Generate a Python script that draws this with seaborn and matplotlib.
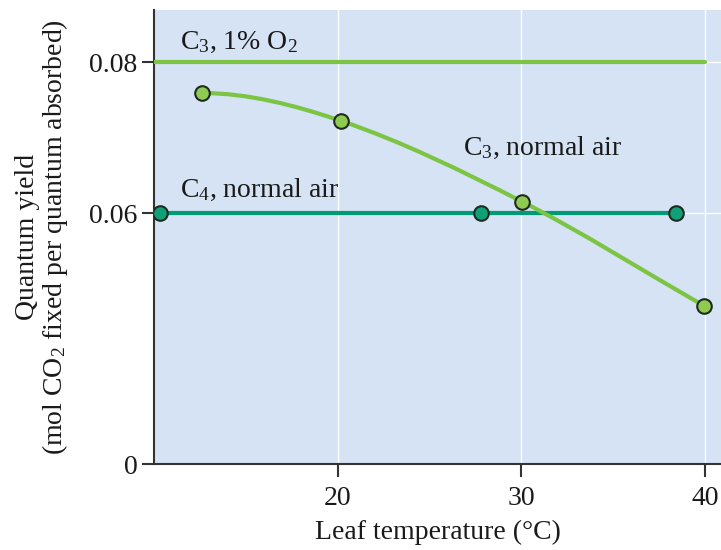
import numpy as np
import pandas as pd
import matplotlib
matplotlib.use("Agg")
import matplotlib.pyplot as plt
from matplotlib.path import Path
from matplotlib.patches import PathPatch
import seaborn as sns

# ---- data ----
c3_low_o2_x = [10.0, 40.0]
c3_low_o2_y = [0.08, 0.08]
c4_x = [10.3, 27.8, 38.4]
c4_y = [0.06, 0.06, 0.06]
c3_air_x = [12.6, 20.2, 30.05, 39.95]
c3_air_y = [0.0759, 0.0722, 0.0615, 0.0378]
x_ticks = [20, 30, 40]
y_ticks = [0, 0.06, 0.08]
y_tick_labels = ["0", "0.06", "0.08"]

sns.set_theme(style="white")
SERIF = "Liberation Serif"
plt.rcParams["font.family"] = [SERIF, "DejaVu Serif"]
plt.rcParams["mathtext.fontset"] = "custom"
plt.rcParams["mathtext.rm"] = SERIF
plt.rcParams["mathtext.it"] = SERIF
plt.rcParams["mathtext.default"] = "rm"

BG = "#d5e3f4"
C3_LINE = "#7cc443"
C3_FILL = "#8fcb52"
C4_LINE = "#009a74"
C4_FILL = "#10a078"
EDGE = "#1f2a1f"
TXT = "#1a1a1a"
FS = 20

# piecewise (broken) y scale: lower 0-0.06 compressed
def fwd(y):
    y = np.asarray(y, dtype=float)
    return np.where(y <= 0.06, y / 0.06 * 251.0, 251.0 + (y - 0.06) / 0.02 * 151.0)

def inv(v):
    v = np.asarray(v, dtype=float)
    return np.where(v <= 251.0, v / 251.0 * 0.06, 0.06 + (v - 251.0) / 151.0 * 0.02)

fig = plt.figure(figsize=(7.21, 5.50), dpi=100)
ax = fig.add_axes([154 / 721, 86 / 550, 1 - 154 / 721, (464 - 10) / 550])
ax.set_yscale("function", functions=(fwd, inv))
ax.set_xlim(10, 40.87)
ax.set_ylim(0, 0.0869)
ax.set_facecolor(BG)

ax.set_xticks(x_ticks)
ax.set_yticks(y_ticks)
ax.set_yticklabels(y_tick_labels)
ax.grid(True, color="white", lw=1.0)
ax.set_axisbelow(True)

for s in ["top", "right"]:
    ax.spines[s].set_visible(False)
for s in ["left", "bottom"]:
    ax.spines[s].set_color("#333333")
    ax.spines[s].set_linewidth(1.5)
ax.tick_params(axis="both", direction="out", length=9, width=1.5, color="#333333",
               labelsize=FS, labelcolor=TXT, left=True, bottom=True)
ax.tick_params(axis="x", pad=7)
ax.tick_params(axis="y", pad=3)

# C3, 1% O2 line
df1 = pd.DataFrame({"x": c3_low_o2_x, "y": c3_low_o2_y})
sns.lineplot(data=df1, x="x", y="y", ax=ax, color=C3_LINE, lw=3, zorder=3)

# C4 normal air
df4 = pd.DataFrame({"x": c4_x, "y": c4_y})
sns.lineplot(data=df4, x="x", y="y", ax=ax, color=C4_LINE, lw=3, zorder=3)
sns.scatterplot(data=df4, x="x", y="y", ax=ax, color=C4_FILL, s=110,
                edgecolor=EDGE, linewidth=1.5, zorder=5)

# C3 normal air: smooth curve through points (Hermite -> cubic Bezier in scaled space)
xs = np.array(c3_air_x)
vs = fwd(c3_air_y)
n = len(xs)
slopes = np.zeros(n)
slopes[0] = 0.0
for i in range(1, n - 1):
    slopes[i] = (vs[i + 1] - vs[i - 1]) / (xs[i + 1] - xs[i - 1])
slopes[-1] = (vs[-1] - vs[-2]) / (xs[-1] - xs[-2])
verts = [(xs[0], vs[0])]
codes = [Path.MOVETO]
for i in range(n - 1):
    h = xs[i + 1] - xs[i]
    verts += [(xs[i] + h / 3, vs[i] + slopes[i] * h / 3),
              (xs[i + 1] - h / 3, vs[i + 1] - slopes[i + 1] * h / 3),
              (xs[i + 1], vs[i + 1])]
    codes += [Path.CURVE4] * 3
patch = PathPatch(Path(verts, codes), facecolor="none", edgecolor=C3_LINE, lw=3,
                  transform=ax.transLimits + ax.transAxes, zorder=4)
ax.add_patch(patch)
df3 = pd.DataFrame({"x": c3_air_x, "y": c3_air_y})
sns.scatterplot(data=df3, x="x", y="y", ax=ax, color=C3_FILL, s=110,
                edgecolor=EDGE, linewidth=1.5, zorder=5)

ax.text(11.4, 0.0817, "C$_3$, 1% O$_2$", fontsize=FS, color=TXT, va="baseline")
ax.text(11.4, 0.0621, "C$_4$, normal air", fontsize=FS, color=TXT, va="baseline")
ax.text(26.8, 0.0677, "C$_3$, normal air", fontsize=FS, color=TXT, va="baseline")

ax.set_xlabel("Leaf temperature (°C)", fontsize=FS, color=TXT, labelpad=6)
ax.set_ylabel("Quantum yield\n(mol CO$_2$ fixed per quantum absorbed)", fontsize=FS,
              color=TXT, labelpad=14, linespacing=1.0)

fig.savefig("out.png", dpi=100, facecolor="white")
